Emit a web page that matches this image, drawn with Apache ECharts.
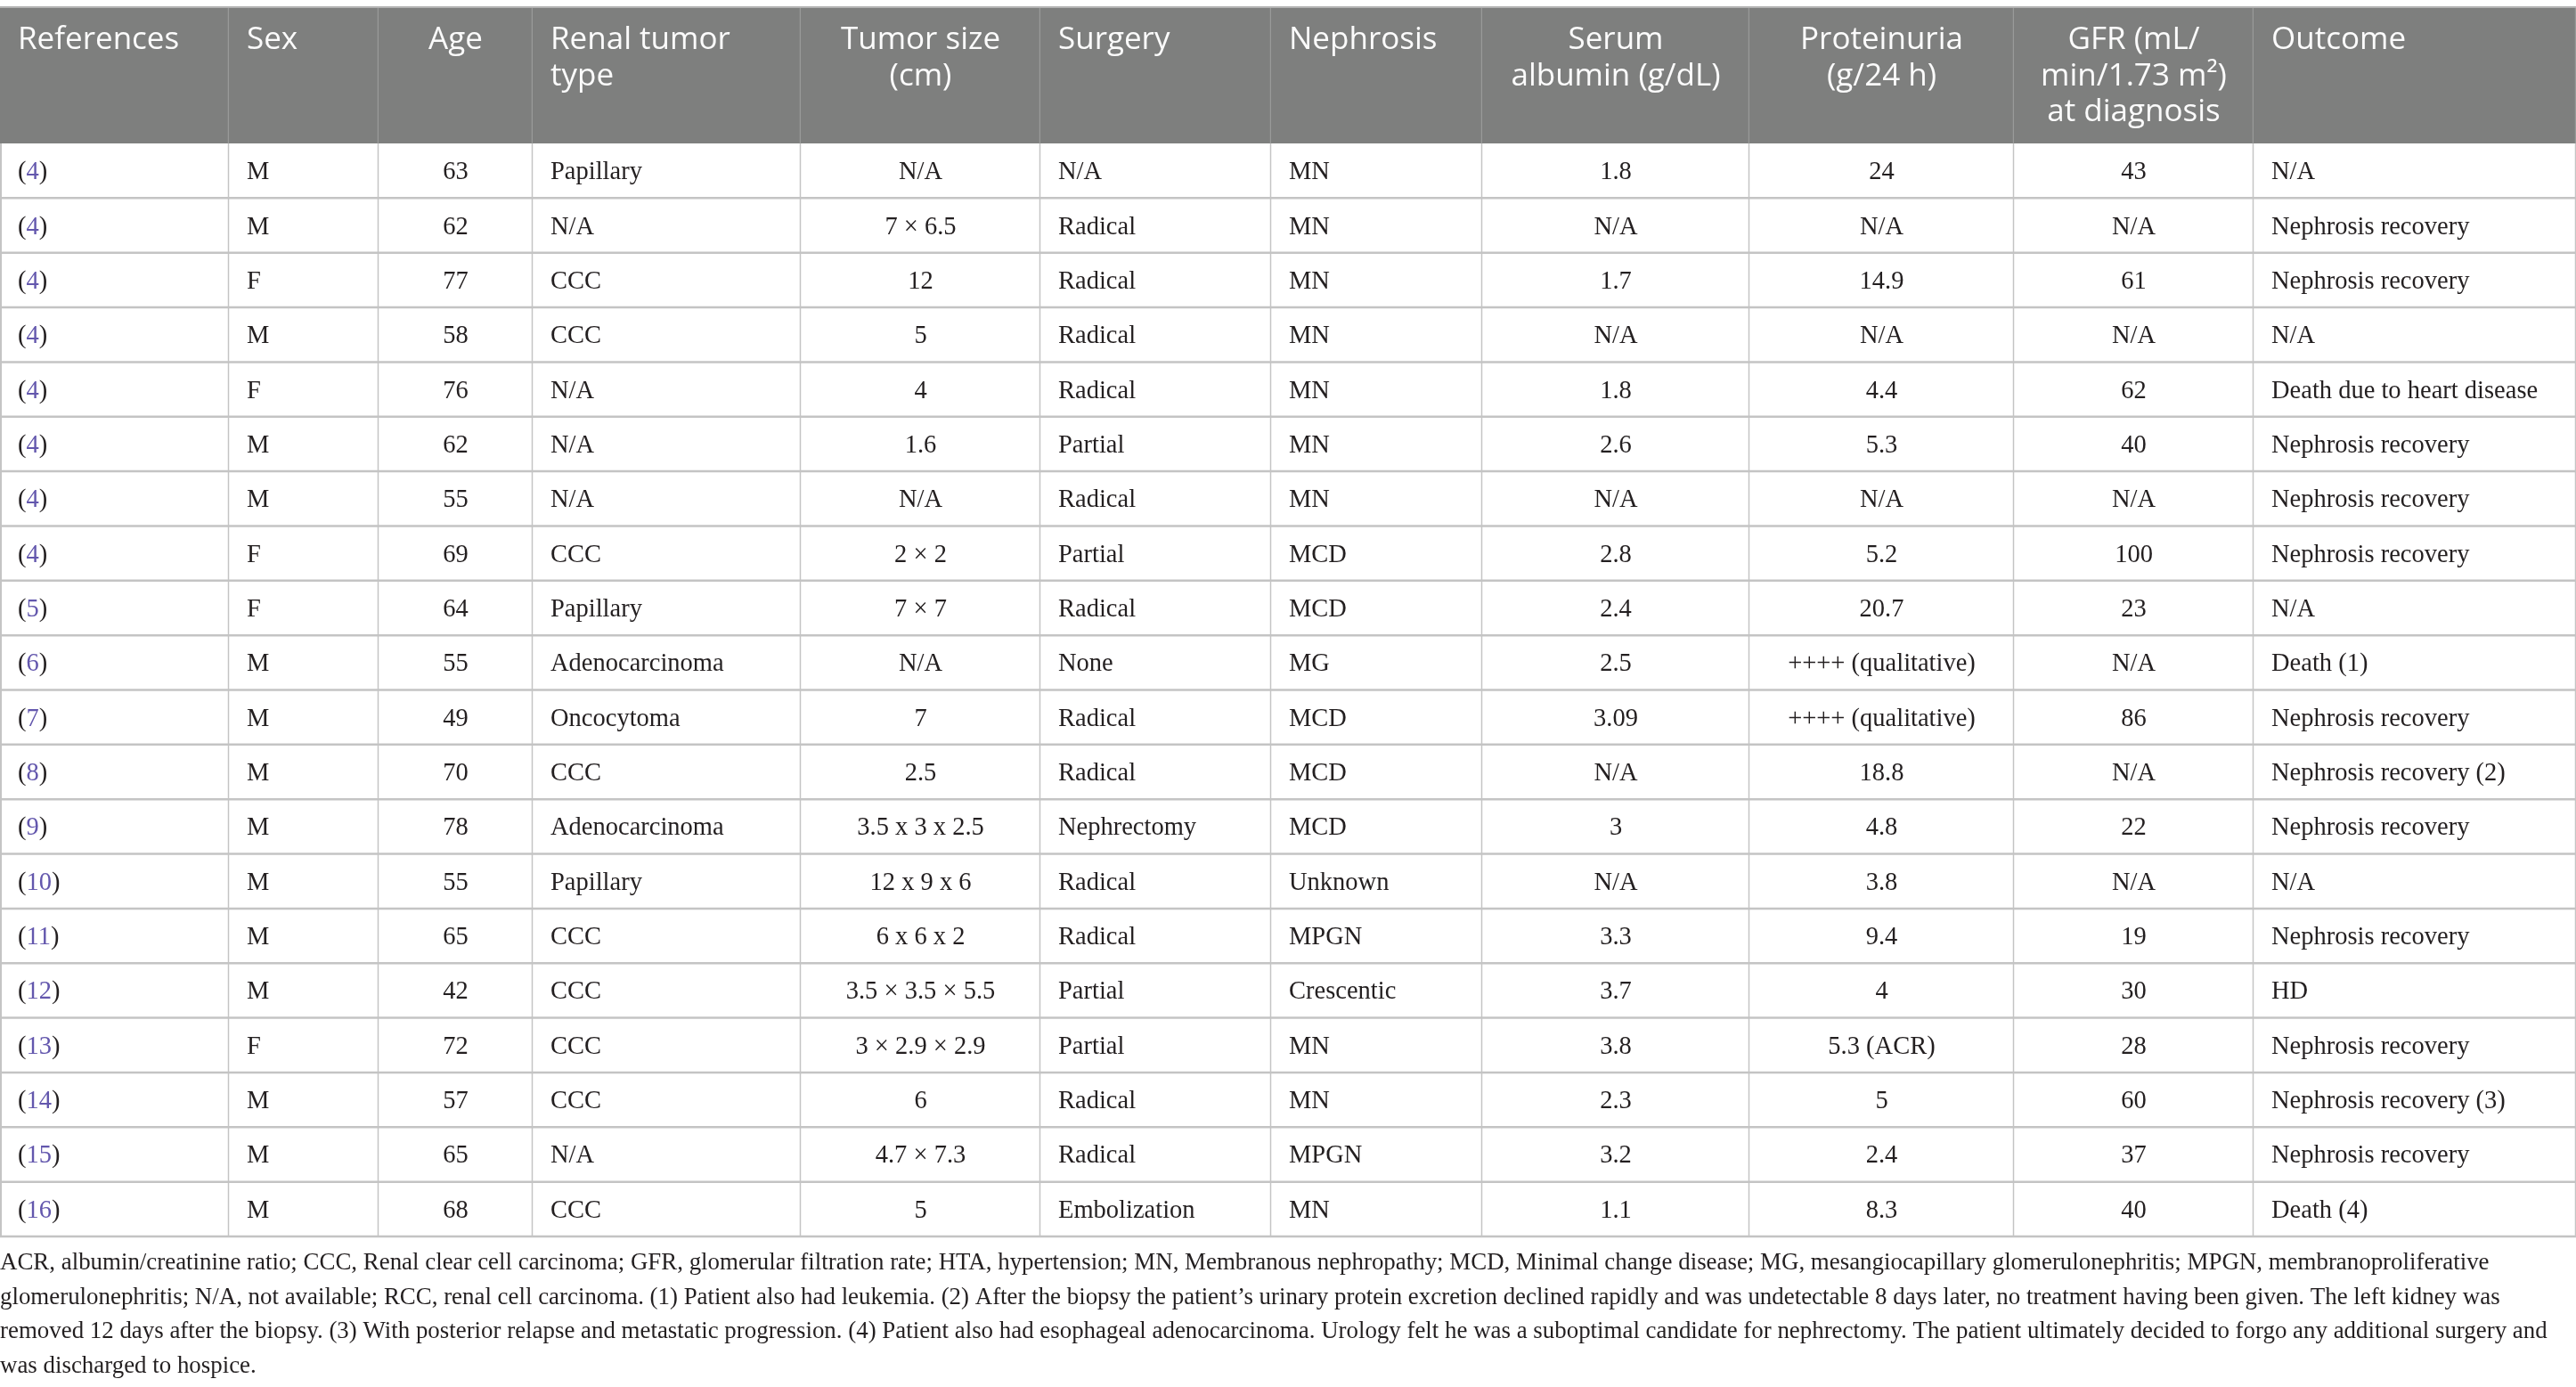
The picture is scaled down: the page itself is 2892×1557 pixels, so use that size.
<!DOCTYPE html>
<html>
<head>
<meta charset="utf-8">
<script src="https://cdn.jsdelivr.net/npm/echarts@6/dist/echarts.min.js"></script>
<style>
  html, body { margin: 0; padding: 0; background: #fff; }
  #chart { width: 2892px; height: 1557px; }
</style>
</head>
<body>
<div id="chart"></div>
<script>
const headers = [
  "References", "Sex", "Age", "Renal tumor\ntype", "Tumor size\n(cm)", "Surgery", "Nephrosis",
  "Serum\nalbumin (g/dL)", "Proteinuria\n(g/24 h)", "GFR (mL/\nmin/1.73 m²)\nat diagnosis", "Outcome",
];
const refs = ["4", "4", "4", "4", "4", "4", "4", "4", "5", "6", "7", "8", "9", "10", "11", "12", "13", "14", "15", "16"];
const sex = ["M", "M", "F", "M", "F", "M", "M", "F", "F", "M", "M", "M", "M", "M", "M", "M", "F", "M", "M", "M"];
const age = ["63", "62", "77", "58", "76", "62", "55", "69", "64", "55", "49", "70", "78", "55", "65", "42", "72", "57", "65", "68"];
const tumorType = [
  "Papillary", "N/A", "CCC", "CCC", "N/A", "N/A", "N/A", "CCC", "Papillary", "Adenocarcinoma",
  "Oncocytoma", "CCC", "Adenocarcinoma", "Papillary", "CCC", "CCC", "CCC", "CCC", "N/A", "CCC",
];
const tumorSize = [
  "N/A", "7 × 6.5", "12", "5", "4", "1.6", "N/A", "2 × 2", "7 × 7", "N/A",
  "7", "2.5", "3.5 x 3 x 2.5", "12 x 9 x 6", "6 x 6 x 2", "3.5 × 3.5 × 5.5", "3 × 2.9 × 2.9", "6", "4.7 × 7.3", "5",
];
const surgery = [
  "N/A", "Radical", "Radical", "Radical", "Radical", "Partial", "Radical", "Partial", "Radical", "None",
  "Radical", "Radical", "Nephrectomy", "Radical", "Radical", "Partial", "Partial", "Radical", "Radical", "Embolization",
];
const nephrosis = [
  "MN", "MN", "MN", "MN", "MN", "MN", "MN", "MCD", "MCD", "MG",
  "MCD", "MCD", "MCD", "Unknown", "MPGN", "Crescentic", "MN", "MN", "MPGN", "MN",
];
const albumin = ["1.8", "N/A", "1.7", "N/A", "1.8", "2.6", "N/A", "2.8", "2.4", "2.5", "3.09", "N/A", "3", "N/A", "3.3", "3.7", "3.8", "2.3", "3.2", "1.1"];
const proteinuria = [
  "24", "N/A", "14.9", "N/A", "4.4", "5.3", "N/A", "5.2", "20.7", "++++ (qualitative)",
  "++++ (qualitative)", "18.8", "4.8", "3.8", "9.4", "4", "5.3 (ACR)", "5", "2.4", "8.3",
];
const gfr = ["43", "N/A", "61", "N/A", "62", "40", "N/A", "100", "23", "N/A", "86", "N/A", "22", "N/A", "19", "30", "28", "60", "37", "40"];
const outcome = [
  "N/A", "Nephrosis recovery", "Nephrosis recovery", "N/A", "Death due to heart disease", "Nephrosis recovery",
  "Nephrosis recovery", "Nephrosis recovery", "N/A", "Death (1)", "Nephrosis recovery", "Nephrosis recovery (2)",
  "Nephrosis recovery", "N/A", "Nephrosis recovery", "HD", "Nephrosis recovery", "Nephrosis recovery (3)",
  "Nephrosis recovery", "Death (4)",
];
const footnoteLines = [
  "ACR, albumin/creatinine ratio; CCC, Renal clear cell carcinoma; GFR, glomerular filtration rate; HTA, hypertension; MN, Membranous nephropathy; MCD, Minimal change disease; MG, mesangiocapillary glomerulonephritis; MPGN, membranoproliferative",
  "glomerulonephritis; N/A, not available; RCC, renal cell carcinoma. (1) Patient also had leukemia. (2) After the biopsy the patient’s urinary protein excretion declined rapidly and was undetectable 8 days later, no treatment having been given. The left kidney was",
  "removed 12 days after the biopsy. (3) With posterior relapse and metastatic progression. (4) Patient also had esophageal adenocarcinoma. Urology felt he was a suboptimal candidate for nephrectomy. The patient ultimately decided to forgo any additional surgery and",
  "was discharged to hospice.",
];

// column edges in table units (the x axis runs over the full width)
const colEdges = [0, 257, 425, 598, 899, 1168, 1427, 1664, 1964, 2261, 2530, 2892];
const colAlign = ["left", "left", "center", "left", "center", "left", "left", "center", "center", "center", "left"];

const columns = [refs, sex, age, tumorType, tumorSize, surgery, nephrosis, albumin, proteinuria, gfr, outcome];
const rowCount = refs.length;

const bodyFont = '"Liberation Serif", serif';
const headFont = '"Open Sans", sans-serif';
const bodySize = 28.5;
const textColor = "#231f20";
const linkColor = "#6357ad";
const lineColor = "#c4c4c4";
const headBg = "#7e7f7e";
const headHeight = 152;
const pad = 20;

const cellData = [];
columns.forEach((col, c) => col.forEach((value, r) => cellData.push([c, r, value])));
const headData = headers.map((h, c) => [c, h]);

function textX(c, x0, x1) {
  return colAlign[c] === "center" ? (x0 + x1) / 2 : x0 + pad;
}

function renderCell(params, api) {
  const c = api.value(0);
  const r = api.value(1);
  const value = cellData[params.dataIndex][2];
  const p0 = api.coord([colEdges[c], r]);
  const p1 = api.coord([colEdges[c + 1], r + 1]);
  const children = [
    {
      type: "line",
      shape: { x1: p0[0], y1: p1[1], x2: p1[0], y2: p1[1] },
      style: { stroke: lineColor, lineWidth: 2.5 },
    },
    {
      type: "line",
      shape: { x1: p1[0] - 0.5, y1: p0[1], x2: p1[0] - 0.5, y2: p1[1] },
      style: { stroke: lineColor, lineWidth: 1.5 },
    },
  ];
  if (c === 0) {
    children.push({
      type: "line",
      shape: { x1: p0[0] + 1, y1: p0[1], x2: p0[0] + 1, y2: p1[1] },
      style: { stroke: lineColor, lineWidth: 2 },
    });
  }
  const style = {
    x: textX(c, p0[0], p1[0]),
    y: (p0[1] + p1[1]) / 2 + 2,
    align: colAlign[c],
    verticalAlign: "middle",
    fill: textColor,
    fontSize: bodySize,
    fontFamily: bodyFont,
  };
  if (c === 0) {
    style.text = "{p|(}{n|" + value + "}{p|)}";
    style.rich = {
      p: { fill: textColor, fontSize: bodySize, fontFamily: bodyFont },
      n: { fill: linkColor, fontSize: bodySize, fontFamily: bodyFont },
    };
  } else {
    style.text = value;
  }
  children.push({ type: "text", style });
  return { type: "group", children };
}

function renderHead(params, api) {
  const c = api.value(0);
  const p0 = api.coord([colEdges[c], 0]);
  const p1 = api.coord([colEdges[c + 1], 0]);
  const top = p0[1] - headHeight;
  return {
    type: "group",
    children: [
      {
        type: "rect",
        shape: { x: p0[0], y: top, width: p1[0] - p0[0], height: headHeight },
        style: { fill: headBg },
      },
      {
        type: "line",
        shape: { x1: p0[0], y1: top - 1, x2: p1[0], y2: top - 1 },
        style: { stroke: "#b4b4b4", lineWidth: 2 },
      },
      {
        type: "line",
        shape: { x1: p1[0] - 0.5, y1: top, x2: p1[0] - 0.5, y2: p0[1] },
        style: { stroke: "#999a99", lineWidth: 1.5 },
      },
      {
        type: "text",
        style: {
          text: headers[c],
          x: textX(c, p0[0], p1[0]),
          y: top + 16,
          align: colAlign[c],
          verticalAlign: "top",
          lineHeight: 40.5,
          fill: "#fbfbfb",
          fontSize: 35,
          fontFamily: headFont,
        },
      },
    ],
  };
}

const chart = echarts.init(document.getElementById("chart"));
chart.setOption({
  animation: false,
  backgroundColor: "#ffffff",
  grid: { left: 0, right: 0, top: 161, bottom: 169 },
  xAxis: { type: "value", min: 0, max: colEdges[colEdges.length - 1], show: false },
  yAxis: { type: "value", min: 0, max: rowCount, inverse: true, show: false },
  graphic: [
    {
      type: "text",
      left: 0,
      top: 1399,
      style: {
        text: footnoteLines.join("\n"),
        lineHeight: 38.5,
        fill: textColor,
        fontSize: 26.9,
        fontFamily: bodyFont,
      },
    },
  ],
  series: [
    {
      type: "custom",
      coordinateSystem: "cartesian2d",
      clip: false,
      data: headData.map((d) => [d[0], 0]),
      encode: { x: 0, y: 1 },
      renderItem: renderHead,
    },
    {
      type: "custom",
      coordinateSystem: "cartesian2d",
      clip: false,
      data: cellData.map((d) => [d[0], d[1]]),
      encode: { x: 0, y: 1 },
      renderItem: renderCell,
    },
  ],
});
window.addEventListener("resize", () => chart.resize());
</script>
</body>
</html>
